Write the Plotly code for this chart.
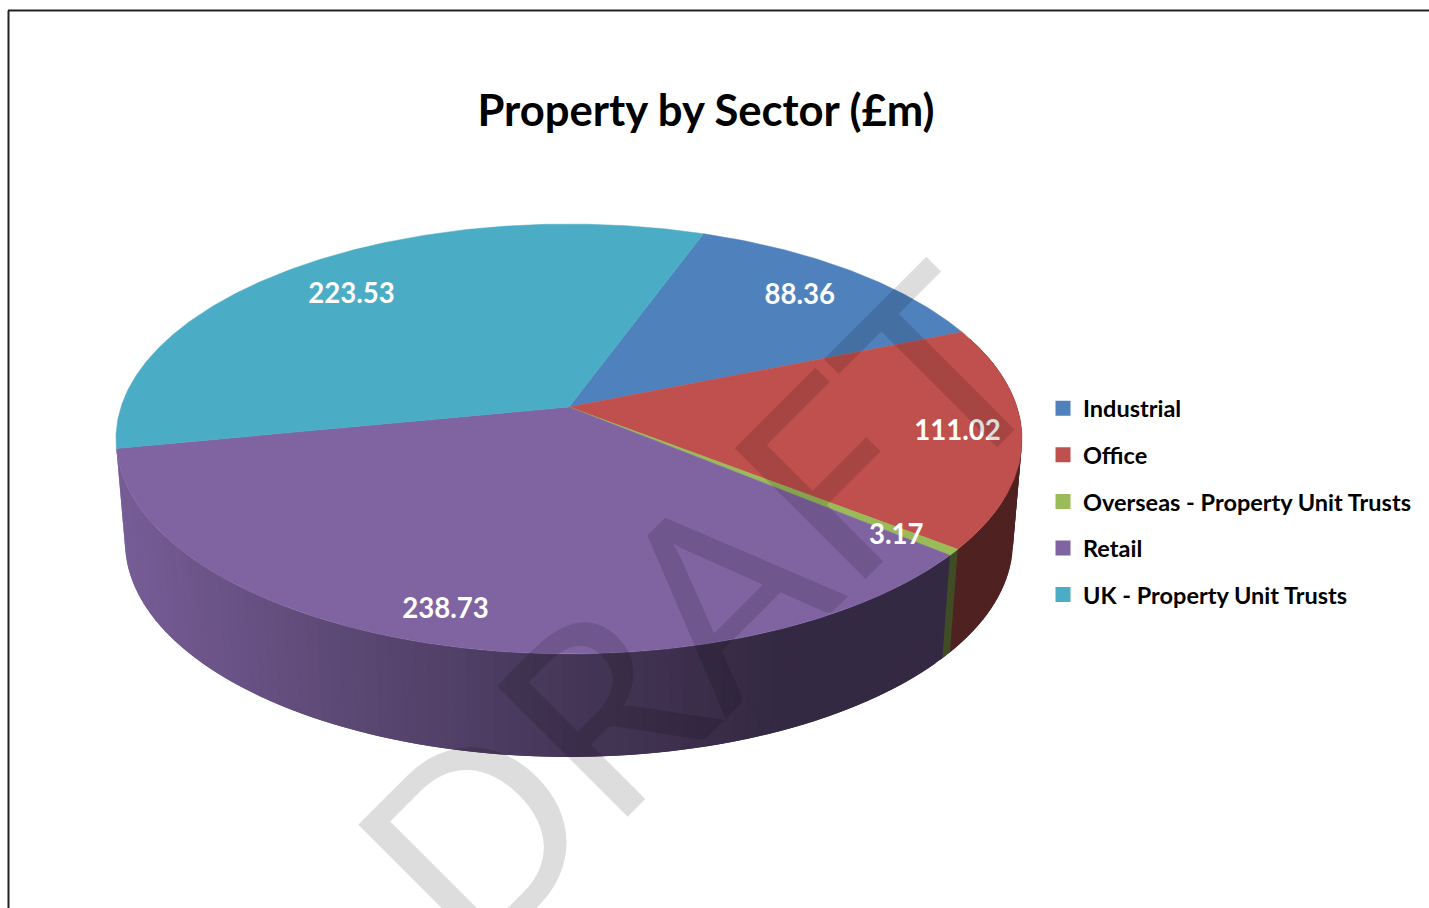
import math
import numpy as np
import plotly.graph_objects as go

# ---- data ----
categories = ["Industrial", "Office", "Overseas - Property Unit Trusts", "Retail", "UK - Property Unit Trusts"]
values = [88.36, 111.02, 3.17, 238.73, 223.53]
value_labels = ["88.36", "111.02", "3.17", "238.73", "223.53"]
colors = ["#4F81BD", "#C0504D", "#9BBB59", "#8064A2", "#4BACC6"]
title_text = "Property by Sector (£m)"
watermark_text = "DRAFT"

# ---- styling / view ----
W, H = 1429, 908
FONT = "Lato"
FIRST_ANGLE = 20.0
CX, CY, A, B, K = 569.0, 407.0, 448.0, 210.2, 0.1488
DEPTH_DY, DEPTH_SX, DEPTH_SY = 103.0, 0.98, 1.0
SIDE_FROM, SIDE_TO = 70.0, 259.0
LABEL_DY = 3.0
label_r = [0.81, 0.86, 0.87, 0.87, 0.79]
label_nudge = [-0.2, -0.7, 0.8, 1.8, -1.4]
shade_x = [115, 340, 570, 780, 1030]
shade_f = [0.93, 0.72, 0.54, 0.41, 0.41]


def project(deg, r=1.0, bottom=False):
    t = np.radians(deg)
    u, v = r * np.sin(t), -r * np.cos(t)
    w = 1 - K * v
    sx = DEPTH_SX if bottom else 1.0
    sy = DEPTH_SY if bottom else 1.0
    dy = DEPTH_DY if bottom else 0.0
    return CX + sx * A * u / w, CY + dy + sy * B * v / w


def shade(hex_c, f):
    r, g, b = (int(hex_c[i:i + 2], 16) for i in (1, 3, 5))
    return f"rgb({r * f:.0f},{g * f:.0f},{b * f:.0f})"


total = sum(values)
edges = [FIRST_ANGLE]
for val in values:
    edges.append(edges[-1] + val / total * 360)

fig = go.Figure()

# extruded side, strip by strip; each strip overlaps the next one to avoid seams
for i, color in enumerate(colors):
    a0, a1 = max(edges[i], SIDE_FROM), min(edges[i + 1], SIDE_TO)
    if a1 <= a0:
        continue
    n = max(2, int((a1 - a0) / 1.5))
    steps = np.linspace(a0, a1, n + 1)
    step = steps[1] - steps[0]
    limit = a1 + 0.5 if a1 < SIDE_TO else a1
    for s0 in steps[:-1]:
        s1 = min(s0 + 2 * step, limit)
        arc = np.linspace(s0, s1, 4)
        xt, yt = project(arc)
        xb, yb = project(arc[::-1], bottom=True)
        mid_x = float(project(s0 + step / 2)[0])
        c = shade(color, float(np.interp(mid_x, shade_x, shade_f)))
        fig.add_trace(go.Scatter(x=[*xt, *xb, xt[0]], y=[*yt, *yb, yt[0]], mode="lines",
                                 fill="toself", fillcolor=c, line=dict(color=c, width=0),
                                 hoverinfo="skip", showlegend=False))

# top faces
for i, color in enumerate(colors):
    arc = np.linspace(edges[i], edges[i + 1], max(3, int(edges[i + 1] - edges[i]) * 2))
    xs, ys = project(arc)
    fig.add_trace(go.Scatter(x=[CX, *xs, CX], y=[CY, *ys, CY], mode="lines", fill="toself",
                             fillcolor=color, line=dict(color=color, width=0.5),
                             hoverinfo="skip", showlegend=False))

# data labels
lx, ly = [], []
for i in range(len(values)):
    mid = (edges[i] + edges[i + 1]) / 2 + label_nudge[i]
    x, y = project(mid, label_r[i])
    lx.append(float(x))
    ly.append(float(y) + LABEL_DY)
fig.add_trace(go.Scatter(x=lx, y=ly, mode="text", text=value_labels,
                         textfont=dict(family=FONT, size=27.6, color="white", weight="bold"),
                         hoverinfo="skip", showlegend=False))

# legend entries
for i, (name, color) in enumerate(zip(categories, colors)):
    fig.add_trace(go.Scatter(x=[None], y=[None], mode="markers", name=name, legendgroup=name,
                             marker=dict(symbol="square", size=15, color=color)))

fig.add_annotation(x=695, y=608, xref="x", yref="y", text=watermark_text, showarrow=False,
                   textangle=-45, font=dict(family=FONT, size=258, color="rgba(0,0,0,0.135)"))

fig.add_shape(type="line", x0=8.5, x1=8.5, y0=10.5, y1=H, line=dict(color="#222", width=2))
fig.add_shape(type="line", x0=8, x1=W, y0=10.5, y1=10.5, line=dict(color="#222", width=2))

fig.update_layout(
    width=W, height=H, autosize=False, margin=dict(l=0, r=0, t=0, b=0),
    paper_bgcolor="white", plot_bgcolor="white",
    title=dict(text=title_text, x=706 / W, xanchor="center", y=1 - 111 / H, yanchor="middle",
               font=dict(family=FONT, size=43.6, color="black", weight="bold")),
    xaxis=dict(range=[0, W], visible=False, fixedrange=True),
    yaxis=dict(range=[H, 0], visible=False, fixedrange=True),
    legend=dict(x=1043 / W, y=1 - 386.5 / H, xanchor="left", yanchor="top", traceorder="grouped",
                tracegroupgap=13, itemwidth=30, bgcolor="rgba(0,0,0,0)",
                font=dict(family=FONT, size=23.5, color="black", weight="bold")),
)

fig.write_html("out.html", config=dict(displayModeBar=False),
               post_script="document.body.style.margin='0';")
